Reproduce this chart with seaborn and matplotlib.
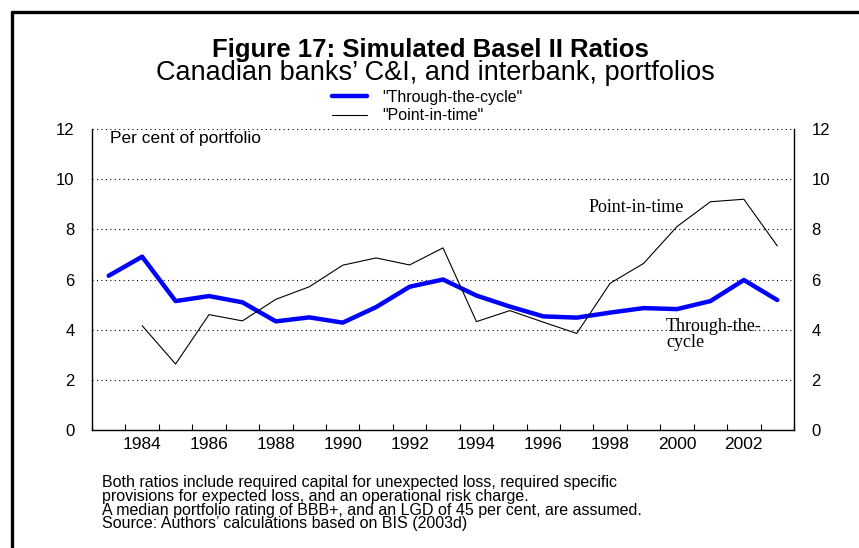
import matplotlib
matplotlib.use('Agg')
import matplotlib.pyplot as plt
from matplotlib.lines import Line2D
import pandas as pd
import seaborn as sns

# Data (per cent of portfolio)
ttc_years = [1983, 1984, 1985, 1986, 1987, 1988, 1989, 1990, 1991, 1992, 1993,
             1994, 1995, 1996, 1997, 1998, 1999, 2000, 2001, 2002, 2003]
ttc_values = [6.15, 6.91, 5.14, 5.34, 5.09, 4.33, 4.49, 4.28, 4.90, 5.71, 6.00,
              5.36, 4.92, 4.53, 4.48, 4.68, 4.86, 4.82, 5.14, 5.98, 5.18]

pit_years = [1984, 1985, 1986, 1987, 1988, 1989, 1990, 1991, 1992, 1993,
             1994, 1995, 1996, 1997, 1998, 1999, 2000, 2001, 2002, 2003]
pit_values = [4.16, 2.63, 4.60, 4.35, 5.21, 5.71, 6.57, 6.86, 6.58, 7.26,
              4.32, 4.76, 4.30, 3.85, 5.85, 6.64, 8.11, 9.10, 9.20, 7.34]

year_labels = [1984, 1986, 1988, 1990, 1992, 1994, 1996, 1998, 2000, 2002]
y_ticks = [0, 2, 4, 6, 8, 10, 12]

notes = ("Both ratios include required capital for unexpected loss, required specific\n"
         "provisions for expected loss, and an operational risk charge.\n"
         "A median portfolio rating of BBB+, and an LGD of 45 per cent, are assumed.\n"
         "Source: Authors\u2019 calculations based on BIS (2003d)")

sns.set_style('white')
plt.rcParams['font.family'] = ['Liberation Sans', 'DejaVu Sans']
plt.rcParams['text.color'] = 'black'
plt.rcParams['xtick.color'] = 'black'
plt.rcParams['ytick.color'] = 'black'
plt.rcParams['axes.labelcolor'] = 'black'

df_ttc = pd.DataFrame({'year': ttc_years, 'value': ttc_values})
df_pit = pd.DataFrame({'year': pit_years, 'value': pit_values})

fig = plt.figure(figsize=(8.59, 5.48), dpi=100)
ax = fig.add_axes([92 / 859, 118 / 548, 702 / 859, 301 / 548])

sns.lineplot(data=df_ttc, x='year', y='value', ax=ax, color='#0000ff', lw=3.2,
             label='"Through-the-cycle"')
sns.lineplot(data=df_pit, x='year', y='value', ax=ax, color='black', lw=0.8,
             label='"Point-in-time"')

ax.set_xlim(1982.5, 2003.5)
ax.set_ylim(0, 12)
ax.set_xlabel('')
ax.set_ylabel('')

# year boundaries get small inward ticks, labels sit mid-year
ax.set_xticks([y + 0.5 for y in range(1982, 2004)])
ax.set_xticklabels([])
ax.set_xticks(year_labels, minor=True)
ax.set_xticklabels([str(y) for y in year_labels], minor=True, fontsize=12.5)
ax.tick_params(axis='x', which='major', direction='in', length=4, width=0.8,
               bottom=True, color='black')
ax.tick_params(axis='x', which='minor', length=0, pad=5)

ax.set_yticks(y_ticks)
ax.set_yticklabels([str(v) for v in y_ticks], fontsize=12)
ax.tick_params(axis='y', left=False, right=False, labelleft=True,
               labelright=True, pad=9)

ax.yaxis.grid(True, linestyle=(0, (1, 3)), color='black', linewidth=0.8)
ax.xaxis.grid(False)
for side in ['left', 'bottom', 'right']:
    ax.spines[side].set_visible(True)
    ax.spines[side].set_color('black')
    ax.spines[side].set_linewidth(1.0)
ax.spines['top'].set_visible(False)

ax.text(0.026, 0.967, 'Per cent of portfolio', transform=ax.transAxes,
        fontsize=12.5, ha='left', va='center')
ax.text(1997.36, 8.89, 'Point-in-time', family='Liberation Serif',
        fontsize=13, ha='left', va='center')
ax.text(1999.67, 3.81, 'Through-the-\ncycle', family='Liberation Serif',
        fontsize=13, ha='left', va='center', linespacing=0.95)

handles, labels = ax.get_legend_handles_labels()
ax.get_legend().remove()
fig.legend(handles, labels, loc='upper left', bbox_to_anchor=(332 / 859, 1 - 90 / 548),
           frameon=False, fontsize=11.5, handlelength=2.2, handletextpad=0.95,
           labelspacing=0.2, borderpad=0, borderaxespad=0)

fig.text(430 / 859, 1 - 57 / 548, 'Figure 17: Simulated Basel II Ratios',
         fontsize=18.5, fontweight='bold', ha='center', va='baseline')
fig.text(435 / 859, 1 - 80 / 548, 'Canadian banks\u2019 C&I, and interbank, portfolios',
         fontsize=19.5, ha='center', va='baseline')
fig.text(102 / 859, 1 - 475 / 548, notes, fontsize=11.5, ha='left', va='top',
         linespacing=0.9)

# heavy frame on the left and top of the page
fig.add_artist(Line2D([12 / 859, 12 / 859], [0, 1 - 12 / 548],
                      transform=fig.transFigure, color='black', lw=2.4))
fig.add_artist(Line2D([12 / 859, 1], [1 - 12 / 548, 1 - 12 / 548],
                      transform=fig.transFigure, color='black', lw=2.4))

fig.savefig('out.png', dpi=100)
